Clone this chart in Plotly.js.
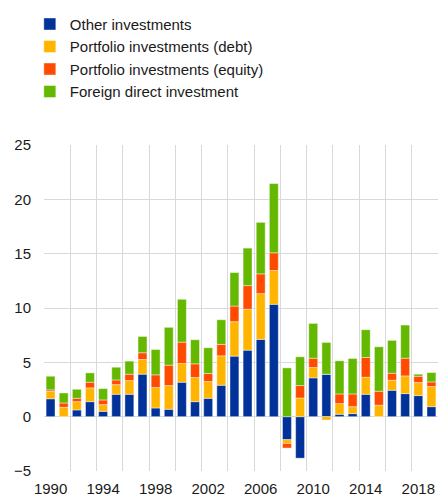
<!DOCTYPE html>
<html>
<head>
<meta charset="utf-8">
<script src="https://cdn.plot.ly/plotly-3.0.1.min.js"></script>
<style>html,body{margin:0;padding:0;background:#fff}#chart{width:438px;height:496px}</style>
</head>
<body>
<div id="chart"></div>
<script>
const years = [1990,1991,1992,1993,1994,1995,1996,1997,1998,1999,2000,2001,2002,2003,2004,2005,2006,2007,2008,2009,2010,2011,2012,2013,2014,2015,2016,2017,2018,2019];
const otherInvestments = [1.65,0,0.62,1.38,0.49,2.06,2.06,3.91,0.8,0.68,3.17,1.38,1.69,2.89,5.57,6.12,7.11,10.34,-2.12,-3.82,3.57,3.91,0.22,0.28,2.06,0,2.43,2.12,1.94,0.92];
const portfolioDebt = [0.68,0.86,0.76,1.27,0.62,0.89,1.26,1.35,1.88,2.18,1.72,2.22,1.54,2.71,3.17,3.76,4.21,3.11,-0.34,1.72,0.95,-0.31,0.98,0.64,1.57,1.05,0.92,1.63,1.2,1.85];
const portfolioEquity = [0.14,0.4,0.31,0.52,0.43,0.43,0.59,0.62,1.17,1.88,1.97,1.26,0.74,1.05,1.44,2.18,1.82,1.63,-0.43,1.14,0.86,0,0.89,1.17,1.82,1.29,0.65,1.63,0.58,0.43];
const fdi = [1.25,0.92,0.83,0.86,1.04,1.17,1.2,1.5,2.33,3.48,3.94,2.22,2.37,2.27,3.08,3.45,4.74,6.37,4.49,2.65,3.2,2.92,3.05,3.26,2.55,4.09,3.02,3.05,0.19,0.86];
const seriesNames = ["Other investments","Portfolio investments (debt)","Portfolio investments (equity)","Foreign direct investment"];
const seriesColors = ["#003299","#FFB400","#FF4B00","#65B800"];
const xTickVals = [1990,1994,1998,2002,2006,2010,2014,2018];
const yTickVals = [-5,0,5,10,15,20,25];

const allSeries = [otherInvestments, portfolioDebt, portfolioEquity, fdi];
const traces = allSeries.map((vals, i) => ({
  type: 'bar', x: years, y: vals, name: seriesNames[i],
  marker: {color: seriesColors[i], line: {color: 'rgba(255,255,255,0.7)', width: 0.6}},
  hoverinfo: 'x+y+name'
}));
// helper trace for category-boundary gridlines
traces.push({type:'scatter', x:[years[0]], y:[0], xaxis:'x2', mode:'none', showlegend:false, hoverinfo:'skip'});

const fam = "'Liberation Sans', Arial, sans-serif";
const font = {family: fam, size: 15, color: '#1a1a1a'};
const gridColor = '#d9d9d9';
const layout = {
  width: 438, height: 496,
  margin: {l: 44, r: 0, t: 145, b: 25},
  paper_bgcolor: '#fff', plot_bgcolor: '#fff',
  font: font,
  barmode: 'relative', bargap: 0.32,
  showlegend: true,
  legend: {x: -0.036, xanchor: 'left', y: 1.421, yanchor: 'top', traceorder: 'normal',
           font: {family: fam, size: 15, color: '#1a1a1a'}, bgcolor: 'rgba(0,0,0,0)', tracegroupgap: 0},
  xaxis: {range: [1989.5, 2019.5], tickmode: 'array', tickvals: xTickVals, ticktext: xTickVals.map(String),
          showgrid: false, zeroline: false, showline: false, ticks: 'outside', ticklen: 4, tickcolor: 'rgba(0,0,0,0)',
          tickfont: font, fixedrange: true},
  xaxis2: {overlaying: 'x', range: [1989.5, 2019.5], tickmode: 'linear', tick0: 1989.5, dtick: 2,
           showgrid: true, gridcolor: gridColor, gridwidth: 1, showticklabels: false, ticks: '', zeroline: false, showline: false},
  yaxis: {range: [-5, 25], tickmode: 'array', tickvals: yTickVals, showgrid: true, gridcolor: gridColor, gridwidth: 1,
          zeroline: true, zerolinecolor: gridColor, zerolinewidth: 1, showline: false,
          ticks: 'outside', ticklen: 9, tickcolor: 'rgba(0,0,0,0)', tickfont: font, fixedrange: true}
};
Plotly.newPlot('chart', traces, layout, {displayModeBar: false, staticPlot: true});
</script>
</body>
</html>
